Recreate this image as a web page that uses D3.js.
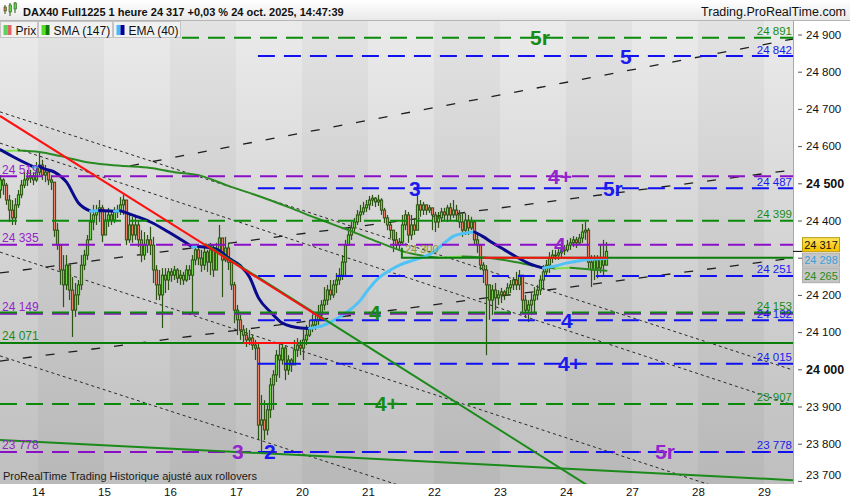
<!DOCTYPE html>
<html><head><meta charset="utf-8">
<script src="https://cdn.jsdelivr.net/npm/d3@7/dist/d3.min.js"></script>
<style>body{margin:0;background:#fff;}svg{display:block;font-family:"Liberation Sans",Arial,sans-serif;}</style>
</head><body><svg id="c" width="850" height="500"></svg>
<script>
// ---------------- DATA ----------------
const firstIndex = -13;          // bar index of first visible candle (day 14 starts at index 0)
const barsPerDay = 22;
const firstOpen = 24482;
const closes = [
 24509,24495,24455,24428,24407,24442,24469,24495,24509,24514,24520,24509,24530,
 24549,24522,24530,24509,24503,24374,24334,24267,24227,24280,24213,24159,24200,24227,24280,24307,24348,24396,24415,24423,24434,24361,
 24401,24415,24401,24423,24428,24442,24455,24348,24388,24361,24388,24348,24307,24334,24348,24334,24267,24227,24200,24253,24240,24262,
 24253,24267,24245,24253,24240,24267,24253,24294,24321,24299,24280,24315,24288,24321,24267,24321,24353,24294,24326,24288,24227,24159,
 24133,24106,24092,24079,24084,24065,24057,23850,23864,23837,23891,23958,23985,24038,24025,24057,23998,24025,24012,24052,24065,24057,
 24079,24092,24111,24119,24133,24146,24173,24186,24213,24200,24227,24240,24253,24288,24334,24361,24380,24396,24415,24423,24434,24442,
 24455,24460,24450,24455,24428,24407,24388,24374,24348,24334,24342,24388,24415,24361,24388,24374,24442,24428,24442,24428,24434,24415,
 24396,24407,24423,24415,24434,24415,24428,24415,24396,24374,24401,24380,24396,24348,24334,24280,24267,24227,24186,24213,24192,24200,
 24208,24200,24219,24227,24240,24227,24253,24186,24159,24173,24186,24200,24213,24240,24262,24280,24299,24307,24307,24313,24321,24321,
 24334,24340,24348,24340,24353,24369,24374,24288,24267,24294,24272,24299,24280,24317];
const highs = [
 24522,24514,24501,24469,24455,24460,24482,24509,24530,24536,24536,24530,24557,
 24584,24563,24549,24536,24522,24469,24393,24334,24307,24307,24267,24248,24232,24240,24307,24321,24361,24420,24442,24442,24455,24442,
 24428,24434,24428,24436,24442,24463,24469,24455,24415,24410,24415,24401,24374,24369,24361,24383,24356,24280,24267,24272,24272,24272,
 24272,24278,24272,24267,24262,24280,24280,24307,24334,24334,24321,24326,24321,24340,24334,24340,24388,24353,24356,24340,24299,24235,
 24173,24146,24119,24111,24106,24092,24079,24071,23931,23917,23904,23977,23998,24052,24073,24071,24065,24038,24030,24079,24084,24079,
 24106,24119,24133,24146,24154,24173,24186,24221,24227,24240,24240,24259,24272,24307,24348,24380,24396,24407,24428,24442,24450,24455,
 24466,24469,24463,24469,24460,24434,24415,24396,24374,24369,24353,24415,24428,24423,24415,24407,24474,24455,24450,24442,24442,24428,
 24423,24423,24434,24434,24442,24447,24455,24442,24428,24420,24420,24415,24410,24401,24366,24334,24288,24280,24213,24227,24232,24213,
 24219,24213,24232,24240,24248,24262,24267,24253,24200,24186,24205,24221,24227,24253,24280,24294,24315,24321,24321,24326,24334,24334,
 24348,24353,24358,24356,24364,24391,24396,24380,24307,24307,24307,24334,24348,24342];
const lows = [
 24460,24469,24442,24396,24388,24388,24434,24460,24487,24493,24501,24495,24503,
 24522,24509,24503,24495,24482,24356,24321,24227,24167,24213,24186,24087,24141,24173,24213,24267,24294,24348,24374,24388,24396,24342,
 24361,24383,24388,24393,24407,24415,24415,24334,24340,24340,24348,24329,24288,24294,24313,24307,24232,24186,24186,24111,24205,24213,
 24235,24240,24232,24227,24227,24235,24240,24151,24280,24280,24262,24267,24262,24253,24248,24267,24307,24194,24288,24267,24213,24124,
 24092,24079,24071,24060,24065,24052,24025,23810,23778,23810,23823,23869,23891,23966,23977,24012,23971,23985,23993,24025,24033,24038,
 24025,24065,24087,24100,24106,24119,24138,24159,24173,24186,24192,24205,24227,24240,24253,24334,24348,24366,24388,24396,24415,24423,
 24428,24439,24436,24439,24415,24393,24374,24353,24315,24321,24321,24334,24374,24340,24348,24361,24388,24410,24415,24415,24420,24374,
 24369,24380,24396,24401,24396,24401,24407,24396,24380,24356,24361,24361,24374,24334,24313,24267,24232,24038,24133,24146,24159,24173,
 24178,24186,24200,24205,24213,24213,24213,24151,24138,24127,24146,24154,24186,24200,24213,24253,24259,24286,24294,24294,24302,24307,
 24315,24321,24329,24326,24334,24340,24348,24272,24221,24240,24245,24259,24253,24288];

// moving averages (bar index, value)
const smaIdx = [-13,-7,0,7,17,27,37,45,53,63,73,83,93,103,113,122,133,141,150,159,167,172,177,189];
const smaVal = [24587,24588,24584,24573,24555,24547,24541,24530,24522,24493,24466,24436,24404,24374,24342,24315,24300,24303,24299,24288,24275,24271,24273,24265];
const emaIdx = [-13,-8,-2,0,1,5,9,13,17,20,25,27,32,37,43,51,53,59,63,67,70,73,77,81,87,90,93,97,102,107,109,113,117,120,125,131,135,138,142,145,148,151,155,159,163,168,172,176,180,183,189];
const emaVal = [24590,24568,24544,24546,24541,24530,24503,24447,24425,24427,24425,24426,24412,24396,24369,24329,24330,24323,24299,24278,24248,24192,24154,24124,24111,24110,24114,24127,24151,24186,24208,24245,24267,24280,24294,24313,24340,24358,24366,24369,24356,24340,24321,24302,24285,24272,24278,24286,24292,24295,24298];

// horizontal levels
const levelValues = [24891,24842,24519,24487,24399,24335,24251,24153,24149,24132,24071,24015,23907,23778,23778];
const levelKinds  = ["green","blue","purple","blue","green","purple","blue","green","purple","blue","greenSolid","blue","green","purple","blue"];
const levelFrom   = [48,73.3,-12.67,73.3,-12.67,-12.67,73.3,-12.67,-12.67,73.3,-12.67,73.3,-12.67,-12.67,73.3];
const levelLabels = ["24 891","24 842","24 519","24 487","24 399","24 335","24 251","24 153","24 149","24 132","24 071","24 015","23 907","23 778","23 778"];
const levelSide   = ["R","R","L","R","R","L","R","R","L","R","L","R","R","L","R"];

// wave labels on the levels
const waveText  = ["5r","5","4+","5r","3","4","4","4","4+","4+","3","2","5r"];
const waveKind  = ["green","blue","purple","blue","blue","purple","green","blue","blue","green","purple","blue","purple"];
const waveIdx   = [164,194,170,188.3,123.7,172,110.3,174.3,173.3,112.3,64.7,75.3,205.7];
const waveLevel = [24891,24842,24519,24487,24487,24335,24153,24132,24015,23907,23778,23778,23778];

// trend lines [i1,v1,i2,v2]
const redLines   = [[-12.67,24681,95,24135],[68.3,24071,86.7,24071],[148.3,24300,189.7,24300]];
const greenLines = [[55.7,24337,187.3,23667],[-12.67,23810,251.67,23702]];
const shortDash  = [[-12.67,24692,251.67,23998],[-12.67,24608,251.67,23904],[-12.67,24315,251.67,23616],[-12.67,24036,251.67,23345]];
const longDash   = [[30.7,24547,251.67,24888],[-12.67,24259,251.67,24536],[-12.67,24022,251.67,24299]];
const boxLevel = 24300, boxFrom = 121.3;

const dayLabels = ["14","15","16","17","20","21","22","23","24","27","28","29"];
const yTicks = [23700,23800,23900,24000,24100,24200,24300,24400,24500,24600,24700,24800,24900];
const hiddenTick = 24300;   // covered by the price boxes
const lastPrice = 24317, lastEma = 24298, lastSma = 24265;

// ---------------- DRAW ----------------
const svg = d3.select("#c");
const PR = 793, PT = 20, PB = 484;
const x = d3.scaleLinear().domain([-12.667, 251.667]).range([0, PR]);
const y = d3.scaleLinear().domain([23700, 24900]).range([480.9, 34.5]);
const cx = i => x(i + 0.5);
const fmt = v => d3.format(",")(v).replace(/,/g, " ");
const COL = {green:"#0b8a0b", greenSolid:"#0b7d0b", blue:"#1010f0", purple:"#8a10c8"};
const TXT = {green:"#168c16", greenSolid:"#1c8c1c", blue:"#1a1af0", purple:"#9424cc"};

const defs = svg.append("defs");
function vgrad(id, stops, y1, y2){
  const g = defs.append("linearGradient").attr("id", id).attr("gradientUnits","userSpaceOnUse")
    .attr("x1",0).attr("x2",0).attr("y1",y1).attr("y2",y2);
  stops.forEach((s,k)=>g.append("stop").attr("offset", k/(stops.length-1)).attr("stop-color", s));
}
vgrad("bgL", ["#ebebeb","#d3d3d3","#bfbfbf"], PT, PB);
vgrad("bgD", ["#e3e3e3","#cbcbcb","#b8b8b8"], PT, PB);
vgrad("hdr", ["#ffffff","#e9e9e9"], 0, 20);
vgrad("yel", ["#fff07a","#f5c400"], 234, 250);
defs.append("clipPath").attr("id","pc").append("rect").attr("x",0).attr("y",PT).attr("width",PR).attr("height",PB-PT);

// background day bands
const plotG = svg.append("g").attr("clip-path","url(#pc)");
for(let k=-1;k<dayLabels.length;k++){
  plotG.append("rect").attr("x", x(k*barsPerDay)).attr("y", PT)
    .attr("width", x((k+1)*barsPerDay)-x(k*barsPerDay)).attr("height", PB-PT)
    .attr("fill", (k%2!==0) ? "url(#bgL)" : "url(#bgD)");
}

// dashed channel lines
shortDash.forEach(d=>plotG.append("line").attr("x1",x(d[0])).attr("y1",y(d[1])).attr("x2",x(d[2])).attr("y2",y(d[3]))
  .attr("stroke","#2a2a2a").attr("stroke-width",1).attr("stroke-dasharray","3,3"));
longDash.forEach(d=>plotG.append("line").attr("x1",x(d[0])).attr("y1",y(d[1])).attr("x2",x(d[2])).attr("y2",y(d[3]))
  .attr("stroke","#1e1e1e").attr("stroke-width",1.3).attr("stroke-dasharray","9,14"));

// candles
const candles = closes.map((c,k)=>{
  const o = k===0 ? firstOpen : closes[k-1];
  return {i:firstIndex+k, o, c, h:Math.max(highs[k],o,c), l:Math.min(lows[k],o,c)};
});
const cg = plotG.append("g");
candles.forEach(d=>{
  const xc = cx(d.i);
  cg.append("line").attr("x1",xc).attr("x2",xc).attr("y1",y(d.h)).attr("y2",y(d.l))
    .attr("stroke","#2a5512").attr("stroke-width",1.2);
  const top = y(Math.max(d.o,d.c)), bot = y(Math.min(d.o,d.c));
  cg.append("rect").attr("x",xc-1.1).attr("y",top).attr("width",2.2).attr("height",Math.max(bot-top,0.8))
    .attr("fill", d.c>=d.o ? "#6cd848" : "#ec8068").attr("stroke","#2a5512").attr("stroke-width",1);
});

// moving averages, coloured by direction
function dirLine(idx, val, upCol, downCol, w){
  const pts = idx.map((i,k)=>[cx(i), y(val[k])]);
  const line = d3.line().curve(d3.curveMonotoneX);
  let start = 0;
  for(let k=1;k<pts.length;k++){
    const up = val[k] >= val[k-1];
    const nextUp = k+1<pts.length ? val[k+1] >= val[k] : null;
    if(nextUp !== up){
      plotG.append("path").attr("d", line(pts.slice(start,k+1))).attr("fill","none")
        .attr("stroke", up?upCol:downCol).attr("stroke-width",w).attr("stroke-linecap","round");
      start = k;
    }
  }
}
dirLine(smaIdx, smaVal, "#7fe04c", "#2a8a22", 2);
dirLine(emaIdx, emaVal, "#4fc3f7", "#0a0a8c", 3);

// horizontal levels (purple first, then green, then blue on top)
["purple","green","greenSolid","blue"].forEach(kind=>{
  levelValues.forEach((v,k)=>{
    if(levelKinds[k]!==kind) return;
    plotG.append("line").attr("x1",x(levelFrom[k])).attr("x2",PR).attr("y1",y(v)).attr("y2",y(v))
      .attr("stroke",COL[kind]).attr("stroke-width",2)
      .attr("stroke-dasharray", kind==="greenSolid" ? null : "17,9");
  });
});
// 24300 box line
plotG.append("path").attr("d",`M${x(boxFrom)},${y(boxLevel)-10}V${y(boxLevel)}H${PR}`)
  .attr("fill","none").attr("stroke","#0b7d0b").attr("stroke-width",2);
plotG.append("text").attr("x",x(boxFrom)+3).attr("y",y(boxLevel)-5).attr("font-size",11)
  .attr("fill","#8b9a2e").text(fmt(boxLevel));

// trend lines
greenLines.forEach(d=>plotG.append("line").attr("x1",x(d[0])).attr("y1",y(d[1])).attr("x2",x(d[2])).attr("y2",y(d[3]))
  .attr("stroke","#1a8a1a").attr("stroke-width",2));
redLines.forEach(d=>plotG.append("line").attr("x1",x(d[0])).attr("y1",y(d[1])).attr("x2",x(d[2])).attr("y2",y(d[3]))
  .attr("stroke","#ff1010").attr("stroke-width",2));

// level value labels
levelValues.forEach((v,k)=>{
  const L = levelSide[k]==="L";
  plotG.append("text").attr("x", L?2:PR-1).attr("y", y(v)-2.5)
    .attr("text-anchor", L?"start":"end").attr("font-size", L?12:11.5)
    .attr("fill", TXT[levelKinds[k]]).text(levelLabels[k]);
});

// wave labels
waveText.forEach((t,k)=>{
  plotG.append("text").attr("x",x(waveIdx[k])).attr("y",y(waveLevel[k])+7.5)
    .attr("font-size",21).attr("font-weight","bold").attr("fill",TXT[waveKind[k]]).text(t);
});

// footer text
plotG.append("text").attr("x",3).attr("y",480).attr("font-size",11).attr("fill","#1a1a1a")
  .text("ProRealTime Trading  Historique ajusté aux rollovers");

// axes backgrounds
svg.append("rect").attr("x",PR).attr("y",PT).attr("width",850-PR).attr("height",500-PT).attr("fill","#fff");
svg.append("rect").attr("x",0).attr("y",PB).attr("width",850).attr("height",500-PB).attr("fill","#fff");
svg.append("line").attr("x1",PR+0.5).attr("x2",PR+0.5).attr("y1",PT).attr("y2",PB).attr("stroke","#a8a8a8");

// right axis
const yAxis = d3.axisRight(y).tickValues(yTicks).tickSize(4).tickPadding(4)
  .tickFormat(v => v===hiddenTick ? "" : fmt(v));
const ya = svg.append("g").attr("transform",`translate(${PR+5},0)`).call(yAxis);
ya.select(".domain").remove();
ya.selectAll(".tick line").attr("stroke","#555");
ya.selectAll(".tick text").attr("fill","#111")
  .attr("font-family","'Liberation Sans',Arial,sans-serif")
  .attr("font-weight",d=>(d===24500||d===24000)?"bold":null)
  .attr("font-size",d=>(d===24500||d===24000)?12.5:11.5)
  .attr("dy",d=>d===23700?"-0.2em":"0.32em");

// bottom axis
const xTickIdx = dayLabels.map((_,k)=>k*barsPerDay);
const xa = svg.append("g").attr("transform",`translate(0,${PB})`)
  .call(d3.axisBottom(x).tickValues(xTickIdx).tickSize(0).tickPadding(4).tickFormat((d,k)=>dayLabels[k]));
xa.select(".domain").remove();
xa.selectAll(".tick text").attr("font-size",11.5).attr("fill","#111").attr("font-family","'Liberation Sans',Arial,sans-serif");

// price boxes on the axis
const boxes = [{v:lastPrice, fill:"url(#yel)", stroke:"#b99a10", tc:"#111"},
               {v:lastEma, fill:"#c6c6c6", stroke:"#adadad", tc:"#3a9fdc"},
               {v:lastSma, fill:"#c6c6c6", stroke:"#adadad", tc:"#2a8a22"}];
boxes.forEach(b=>b.p=y(b.v));
for(let it=0;it<60;it++){
  for(let k=1;k<boxes.length;k++){
    const d = boxes[k].p - boxes[k-1].p;
    if(d<15.5){const s=(15.5-d)/2; boxes[k].p+=s; boxes[k-1].p-=s;}
  }
}
svg.append("line").attr("x1",PR).attr("x2",PR+9).attr("y1",y(lastPrice)).attr("y2",y(lastPrice)).attr("stroke","#000").attr("stroke-width",1);
boxes.forEach(b=>{
  svg.append("rect").attr("x",802.5).attr("y",b.p-7).attr("width",37).attr("height",14)
    .attr("fill",b.fill).attr("stroke",b.stroke);
  svg.append("text").attr("x",821).attr("y",b.p+4).attr("text-anchor","middle").attr("font-size",11)
    .attr("fill",b.tc).text(fmt(b.v));
});

// header
svg.append("rect").attr("width",850).attr("height",PT).attr("fill","url(#hdr)");
svg.append("line").attr("x1",0).attr("x2",850).attr("y1",PT+0.5).attr("y2",PT+0.5).attr("stroke","#b5b5b5");
[[4,5,14,7,11,"#e06a5a"],[9,3,16,5,12,"#5fcf4a"],[14,2,13,3,9,"#5fcf4a"]].forEach(c=>{
  svg.append("line").attr("x1",c[0]+1).attr("x2",c[0]+1).attr("y1",c[1]).attr("y2",c[2]).attr("stroke","#2c5a14");
  svg.append("rect").attr("x",c[0]).attr("y",c[3]).attr("width",2.5).attr("height",c[4]-c[3]).attr("fill",c[5]).attr("stroke","#2c5a14").attr("stroke-width",0.6);
});
svg.append("text").attr("x",23).attr("y",15.5).attr("font-size",11).attr("font-weight","bold").attr("fill","#111")
  .text("DAX40 Full1225 1 heure 24 317 +0,03 % 24 oct. 2025, 14:47:39");
svg.append("text").attr("x",846).attr("y",15.5).attr("text-anchor","end").attr("font-size",12.5).attr("fill","#111")
  .text("Trading.ProRealTime.com");

// legend tabs
const tabs = [{x:0,w:37,t:"Prix",c1:"#5fcf5f",c2:"#e06464"},
              {x:38,w:74,t:"SMA (147)",c1:"#55dd22",c2:"#117711"},
              {x:113,w:67,t:"EMA (40)",c1:"#44bbff",c2:"#000099"}];
tabs.forEach(t=>{
  svg.append("rect").attr("x",t.x+0.5).attr("y",PT+1.5).attr("width",t.w).attr("height",16)
    .attr("fill","#f1f1f1").attr("stroke","#c4c4c4");
  svg.append("rect").attr("x",t.x+3.5).attr("y",PT+5).attr("width",4).attr("height",10).attr("fill",t.c1);
  svg.append("rect").attr("x",t.x+7.5).attr("y",PT+5).attr("width",4).attr("height",10).attr("fill",t.c2);
  svg.append("text").attr("x",t.x+15.5).attr("y",PT+14.5).attr("font-size",12).attr("fill","#111").text(t.t);
});
</script></body></html>
